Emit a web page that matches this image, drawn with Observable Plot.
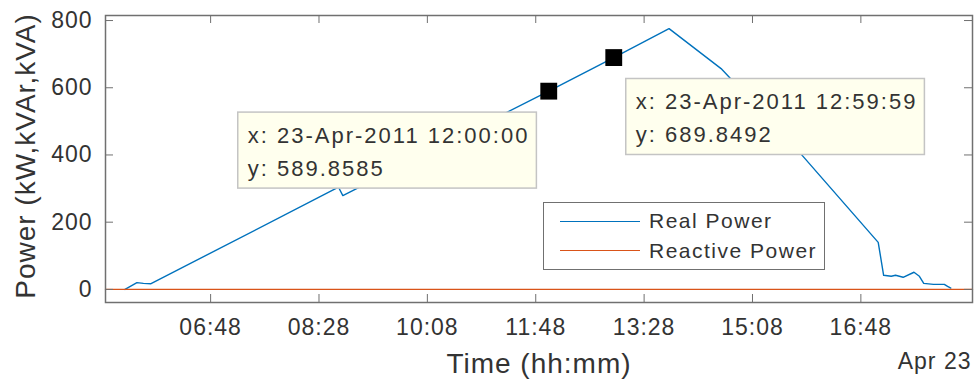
<!DOCTYPE html>
<html>
<head>
<meta charset="utf-8">
<script src="https://cdn.jsdelivr.net/npm/d3@7"></script>
<script src="https://cdn.jsdelivr.net/npm/@observablehq/plot@0.6"></script>
<style>
  body { margin: 0; background: #fff; font-family: "Liberation Sans", Arial, sans-serif; }
  #wrap { position: relative; width: 977px; height: 381px; }
  #wrap svg { display: block; }
  #wrap svg text { letter-spacing: 1px; }
  .legend-box { position: absolute; left: 543px; top: 202px; width: 282px; height: 68px; box-sizing: border-box;
    border: 1.5px solid #707070; background: #fff; }
  .sw { position: absolute; left: 560px; width: 80px; height: 1.5px; }
  .lt { position: absolute; left: 649px; font-size: 21px; line-height: 21px; letter-spacing: 1.5px; color: #333; white-space: nowrap; }
</style>
</head>
<body>
<div id="wrap"></div>
<script>
// ---- data ----
const realTimes = ["05:29","05:40","05:46","05:53","08:46","08:50","12:00","13:00","13:51","14:39","15:50","17:04","17:09","17:16","17:20","17:27","17:37","17:42","17:46","17:55","18:05","18:08","18:11"];
const realValues = [0, 20, 18, 17, 304, 279, 589.86, 689.85, 776, 657, 413, 140, 42, 39, 42, 36, 51, 39, 18, 15, 15, 9, 4];
const reactiveTimes = ["05:11","18:31"];
const reactiveValues = [0, 0];
const xDomain = ["05:11","18:31"];
const yDomain = [-39, 815];
const xTickLabels = ["06:48","08:28","10:08","11:48","13:28","15:08","16:48"];
const yTicks = [0, 200, 400, 600, 800];
const tipTimes = ["12:00:00","12:59:59"];
const tipDateLabels = ["23-Apr-2011 12:00:00","23-Apr-2011 12:59:59"];
const tipValues = [589.8585, 689.8492];
const seriesNames = ["Real Power","Reactive Power"];
const dateLabel = "Apr 23";
const xLabel = "Time (hh:mm)";
const yLabel = "Power (kW,kVAr,kVA)";

// ---- layout ----
const W = 977, H = 381, mL = 105, mR = 5, mT = 15, mB = 79;
const innerW = W - mL - mR, innerH = H - mT - mB;
const colors = ["#0072BD", "#D95319"];
const axisColor = "#707070", textColor = "#333";
const tickLen = 8;

const pHM = d3.utcParse("%H:%M"), pHMS = d3.utcParse("%H:%M:%S");
const real = realTimes.map((t, i) => ({t: pHM(t), v: realValues[i]}));
const reactive = reactiveTimes.map((t, i) => ({t: pHM(t), v: reactiveValues[i]}));
const xTicks = xTickLabels.map(pHM);
const tips = tipTimes.map((t, i) => ({
  t: pHMS(t), v: tipValues[i],
  label: `x: ${tipDateLabels[i]}\ny: ${d3.format(".4f")(tipValues[i])}`
}));

const tipText = (data, dx) => Plot.text(data, {
  x: "t", y: "v", text: "label", dx, dy: 28.5,
  textAnchor: "start", lineAnchor: "top", lineHeight: 1.5,
  fontSize: 22, fill: textColor
});

const chart = Plot.plot({
  width: W, height: H,
  marginLeft: mL, marginRight: mR, marginTop: mT, marginBottom: mB,
  style: {fontFamily: '"Liberation Sans", Arial, sans-serif', color: textColor, background: "#fff"},
  x: {type: "utc", domain: xDomain.map(pHM)},
  y: {domain: yDomain},
  marks: [
    Plot.line(real, {x: "t", y: "v", stroke: colors[0], strokeWidth: 1.4}),
    Plot.line(reactive, {x: "t", y: "v", stroke: colors[1], strokeWidth: 1.4}),
    Plot.frame({stroke: axisColor, strokeWidth: 1.5}),
    Plot.ruleX(xTicks, {x: d => d, insetTop: innerH - tickLen, stroke: axisColor}),
    Plot.ruleX(xTicks, {x: d => d, insetBottom: innerH - tickLen, stroke: axisColor}),
    Plot.ruleY(yTicks, {y: d => d, insetRight: innerW - tickLen, stroke: axisColor}),
    Plot.ruleY(yTicks, {y: d => d, insetLeft: innerW - tickLen, stroke: axisColor}),
    Plot.axisX({ticks: xTicks, tickFormat: d3.utcFormat("%H:%M"), tickSize: 0, tickPadding: 16, fontSize: 23, label: null, fill: textColor}),
    Plot.axisY({ticks: yTicks, tickSize: 0, tickPadding: 13, fontSize: 23, label: null, fill: textColor}),
    Plot.text([xLabel], {frameAnchor: "bottom", lineAnchor: "top", dy: 51, fontSize: 28, fill: textColor}),
    Plot.text([dateLabel], {frameAnchor: "bottom-right", textAnchor: "end", lineAnchor: "top", dx: -1, dy: 50, fontSize: 23, fill: textColor}),
    Plot.text([yLabel], {frameAnchor: "left", textAnchor: "middle", lineAnchor: "middle", rotate: -90, dx: -79, dy: -3, fontSize: 28, fill: textColor}),
    tipText(tips.slice(0, 1), -301),
    tipText(tips.slice(1, 2), 22),
    Plot.dot(tips, {x: "t", y: "v", symbol: "square", r: 9.5, fill: "#000", stroke: "none"})
  ]
});

const wrap = document.getElementById("wrap");
wrap.appendChild(chart);

// datatip backgrounds behind their text
const ns = "http://www.w3.org/2000/svg";
chart.querySelectorAll("text").forEach(t => {
  if (!t.textContent.startsWith("x: ")) return;
  t.style.letterSpacing = "2px";
  const bb = t.getBBox();
  const r = document.createElementNS(ns, "rect");
  r.setAttribute("x", bb.x - 10);
  r.setAttribute("y", bb.y - 11);
  r.setAttribute("width", bb.width + 17);
  r.setAttribute("height", bb.height + 18);
  r.setAttribute("fill", "#FFFFEE");
  r.setAttribute("stroke", "#c4c4c4");
  r.setAttribute("stroke-width", 1.5);
  const tr = t.getAttribute("transform");
  if (tr) r.setAttribute("transform", tr);
  t.parentNode.insertBefore(r, t);
});

// legend
const box = document.createElement("div");
box.className = "legend-box";
wrap.appendChild(box);
const swTops = [220.5, 249.5], txtTops = [210, 240];
seriesNames.forEach((name, i) => {
  const sw = document.createElement("div");
  sw.className = "sw";
  sw.style.top = swTops[i] + "px";
  sw.style.background = colors[i];
  wrap.appendChild(sw);
  const tx = document.createElement("div");
  tx.className = "lt";
  tx.style.top = txtTops[i] + "px";
  tx.textContent = name;
  wrap.appendChild(tx);
});
</script>
</body>
</html>
